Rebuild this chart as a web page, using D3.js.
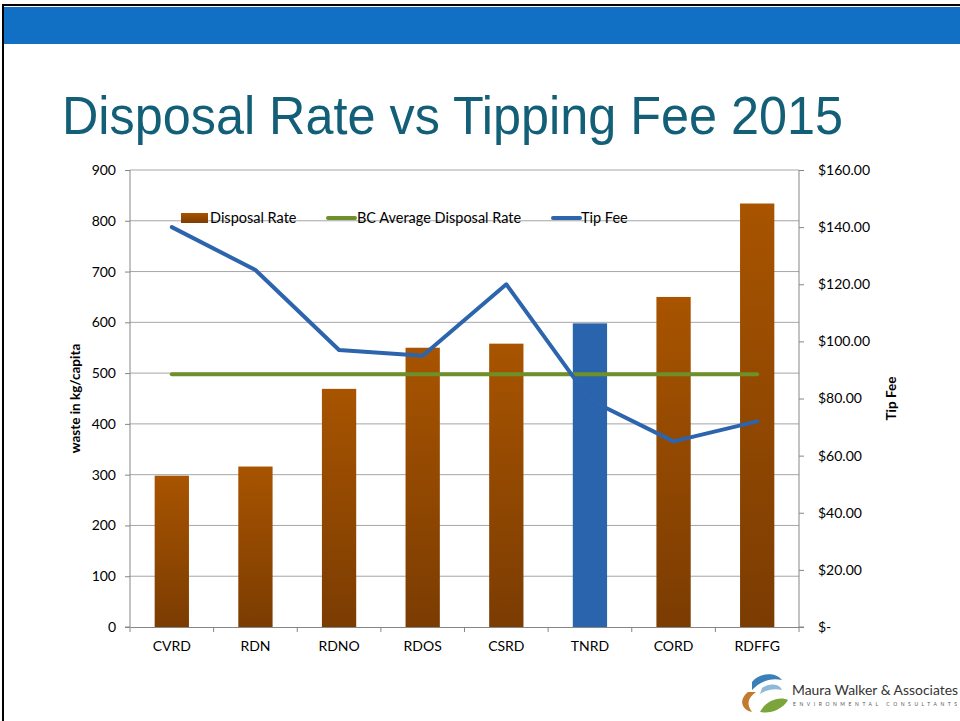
<!DOCTYPE html>
<html>
<head>
<meta charset="utf-8">
<script src="https://cdn.jsdelivr.net/npm/d3@7"></script>
<style>
  body { margin: 0; background: #fff; }
  svg { display: block; }
</style>
</head>
<body>
<div id="chart"></div>
<script>
// chart data
const regions = ["CVRD", "RDN", "RDNO", "RDOS", "CSRD", "TNRD", "CORD", "RDFFG"];
const disposalRate = [298, 316, 469, 550, 558, 598, 650, 834];
const tipFee = [140, 125, 97, 95, 120, 79.5, 65, 72];
const bcAverage = [498, 498, 498, 498, 498, 498, 498, 498];
const leftTicks = [0, 100, 200, 300, 400, 500, 600, 700, 800, 900];
const rightTicks = [0, 20, 40, 60, 80, 100, 120, 140, 160];
const highlighted = "TNRD";

const width = 960, height = 721;
const plot = {left: 130, right: 799, top: 170, bottom: 627};
const font = "Lato, 'Open Sans', sans-serif";

const svg = d3.select("#chart").append("svg")
  .attr("width", width)
  .attr("height", height);

// slide frame + header band
svg.append("rect").attr("x", 3).attr("y", 5).attr("width", width).attr("height", height)
  .attr("fill", "none").attr("stroke", "#000").attr("stroke-width", 2);
svg.append("rect").attr("x", 4).attr("y", 7).attr("width", width - 4).attr("height", 37)
  .attr("fill", "#1170c4");

svg.append("text")
  .attr("x", 62).attr("y", 134)
  .attr("font-family", "'Liberation Sans', Arial, sans-serif")
  .attr("font-size", 54)
  .attr("fill", "#125f77")
  .attr("textLength", 781)
  .attr("lengthAdjust", "spacingAndGlyphs")
  .text("Disposal Rate vs Tipping Fee 2015");

//Scales
const x = d3.scaleBand().domain(regions).range([plot.left, plot.right]).paddingInner(0.59).paddingOuter(0.295);
const y = d3.scaleLinear().domain([0, 900]).range([plot.bottom, plot.top]);
const y2 = d3.scaleLinear().domain([0, 160]).range([plot.bottom, plot.top]);
const xc = d => x(d) + x.bandwidth() / 2;

const defs = svg.append("defs");
const grad = defs.append("linearGradient").attr("id", "barGrad")
  .attr("x1", "0%").attr("y1", "0%").attr("x2", "0%").attr("y2", "100%");
grad.append("stop").attr("offset", "0%").attr("stop-color", "#a85400");
grad.append("stop").attr("offset", "100%").attr("stop-color", "#7b3c02");

//Gridlines
svg.append("g").selectAll("line")
  .data(leftTicks.slice(1))
  .enter().append("line")
  .attr("x1", plot.left).attr("x2", plot.right)
  .attr("y1", d => y(d)).attr("y2", d => y(d))
  .attr("stroke", "#a6a6a6").attr("stroke-width", 1);

//Bars
svg.append("g").selectAll("rect")
  .data(regions)
  .enter().append("rect")
  .attr("x", d => x(d))
  .attr("y", (d, i) => y(disposalRate[i]))
  .attr("width", x.bandwidth())
  .attr("height", (d, i) => y(0) - y(disposalRate[i]))
  .attr("fill", d => d === highlighted ? "#2a64ad" : "url(#barGrad)");

//Axes
const leftAxis = d3.axisLeft(y).tickValues(leftTicks).tickSize(5).tickPadding(9);
const rightAxis = d3.axisRight(y2).tickValues(rightTicks).tickSize(5).tickPadding(14)
  .tickFormat(d => d === 0 ? "$-" : "$" + d.toFixed(2));
const bottomAxis = d3.axisBottom(x).tickSize(0).tickPadding(14);

function styleAxis(g){
  g.select(".domain").attr("stroke", "#868686");
  g.selectAll(".tick line").attr("stroke", "#868686");
  g.selectAll("text").attr("font-family", font).attr("font-size", 14).attr("fill", "#000");
}

svg.append("g").attr("transform", "translate(" + plot.left + ",0)")
  .call(leftAxis).call(g => g.select(".domain").attr("d", "M-5," + plot.bottom + "H0V" + plot.top)).call(styleAxis);
svg.append("g").attr("transform", "translate(" + plot.right + ",0)")
  .call(rightAxis).call(g => g.select(".domain").attr("d", "M0," + plot.top + "V" + plot.bottom + "H5")).call(styleAxis);
svg.append("g").attr("transform", "translate(0," + plot.bottom + ")")
  .call(bottomAxis).call(styleAxis);

// category separators under the axis
svg.append("g").selectAll("line")
  .data(d3.range(regions.length + 1))
  .enter().append("line")
  .attr("x1", i => plot.left + i * x.step()).attr("x2", i => plot.left + i * x.step())
  .attr("y1", plot.bottom).attr("y2", plot.bottom + 5)
  .attr("stroke", "#868686");

//Lines
svg.append("path")
  .datum(bcAverage)
  .attr("d", d3.line().x((d, i) => xc(regions[i])).y(d => y(d)))
  .attr("fill", "none").attr("stroke", "#6f9029").attr("stroke-width", 4).attr("stroke-linecap", "round");

svg.append("path")
  .datum(tipFee)
  .attr("d", d3.line().x((d, i) => xc(regions[i])).y(d => y2(d)))
  .attr("fill", "none").attr("stroke", "#2c64ad").attr("stroke-width", 4)
  .attr("stroke-linecap", "round").attr("stroke-linejoin", "round");

//Axis titles
svg.append("text")
  .attr("transform", "translate(80," + ((plot.top + plot.bottom) / 2) + ") rotate(-90)")
  .attr("text-anchor", "middle")
  .attr("font-family", font).attr("font-size", 13.5).attr("font-weight", "bold")
  .text("waste in kg/capita");
svg.append("text")
  .attr("transform", "translate(896," + ((plot.top + plot.bottom) / 2) + ") rotate(-90)")
  .attr("text-anchor", "middle")
  .attr("font-family", font).attr("font-size", 13.5).attr("font-weight", "bold")
  .text("Tip Fee");

//Legend
const legend = svg.append("g").attr("font-family", font).attr("font-size", 14.5);
legend.append("rect").attr("x", 181).attr("y", 213).attr("width", 27).attr("height", 10).attr("fill", "url(#barGrad)");
legend.append("text").attr("x", 210).attr("y", 223).text("Disposal Rate");
legend.append("line").attr("x1", 328).attr("x2", 355).attr("y1", 218).attr("y2", 218)
  .attr("stroke", "#6f9029").attr("stroke-width", 4).attr("stroke-linecap", "round");
legend.append("text").attr("x", 357).attr("y", 223).text("BC Average Disposal Rate");
legend.append("line").attr("x1", 553).attr("x2", 580).attr("y1", 218).attr("y2", 218)
  .attr("stroke", "#2c64ad").attr("stroke-width", 4).attr("stroke-linecap", "round");
legend.append("text").attr("x", 581).attr("y", 223).text("Tip Fee");

//Logo
const logo = svg.append("g");
logo.append("path").attr("d", "M752,682 C760,672 776,672 782,680 C772,678 762,680 752,690 Z").attr("fill", "#3a7fb8");
logo.append("path").attr("d", "M762,688 C770,682 780,684 782,690 C774,688 766,690 760,694 Z").attr("fill", "#8fb9d8");
logo.append("path").attr("d", "M748,692 C738,700 742,710 752,712 C746,704 748,698 756,692 Z").attr("fill", "#c27a2c");
logo.append("path").attr("d", "M760,712 C766,700 780,696 788,700 C782,710 770,714 760,712 Z").attr("fill", "#7aa53a");
logo.append("text").attr("x", 792).attr("y", 695)
  .attr("font-family", font).attr("font-size", 13).attr("fill", "#333")
  .attr("textLength", 166).attr("lengthAdjust", "spacingAndGlyphs")
  .text("Maura Walker & Associates");
logo.append("text").attr("x", 793).attr("y", 706)
  .attr("font-family", font).attr("font-size", 5).attr("fill", "#555")
  .attr("textLength", 164).attr("lengthAdjust", "spacing")
  .text("ENVIRONMENTAL CONSULTANTS");
</script>
</body>
</html>
